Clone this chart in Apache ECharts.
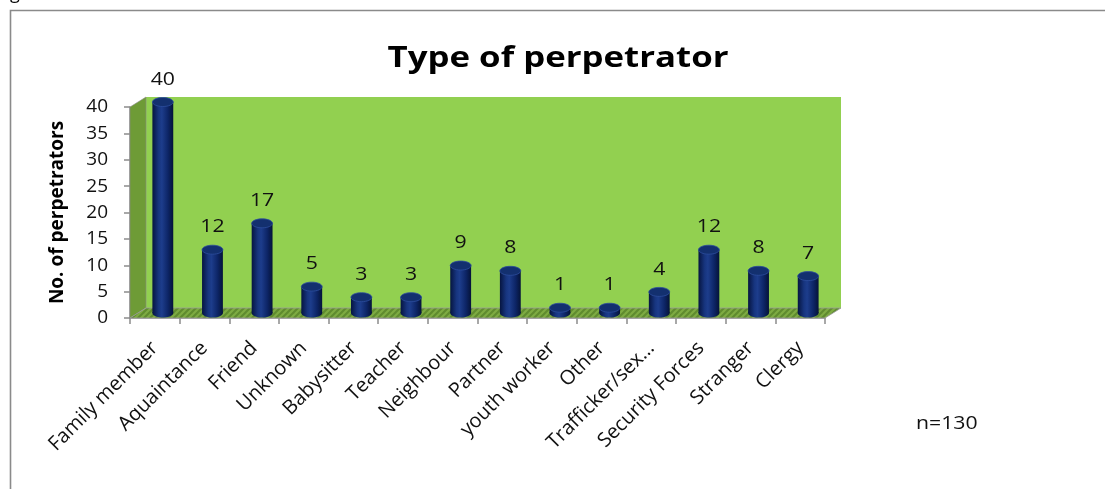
<!DOCTYPE html>
<html>
<head>
<meta charset="utf-8">
<script src="https://cdn.jsdelivr.net/npm/echarts@6/dist/echarts.min.js"></script>
<style>
html,body{margin:0;padding:0;background:#fff;overflow:hidden;}
#c{width:1105px;height:489px;}
</style>
</head>
<body>
<div id="c"></div>
<script>
// ---- data ----
const categories = ['Family member','Aquaintance','Friend','Unknown','Babysitter','Teacher','Neighbour','Partner','youth worker','Other','Trafficker/sex…','Security Forces','Stranger','Clergy'];
const counts = [40,12,17,5,3,3,9,8,1,1,4,12,8,7];
const yTicks = {min:0, max:40, interval:5};
const titleText = 'Type of perpetrator';
const yAxisTitle = 'No. of perpetrators';
const noteText = 'n=130';

// ---- layout ----
const FONT = "'Open Sans', 'Noto Sans', sans-serif";
const WIDE = 1.18; // horizontal text widening for upright texts
const front = {left:130, top:107, right:825, bottom:318};
const depth = {dx:16, dy:-10};

// floor stripe pattern
const pc = document.createElement('canvas');
pc.width = 6; pc.height = 6;
const g = pc.getContext('2d');
g.fillStyle = '#7eab43'; g.fillRect(0,0,6,6);
g.strokeStyle = '#5f8b2f'; g.lineWidth = 2;
g.beginPath(); g.moveTo(-1,7); g.lineTo(7,-1); g.stroke();
g.beginPath(); g.moveTo(-4,4); g.lineTo(4,-4); g.stroke();
g.beginPath(); g.moveTo(2,10); g.lineTo(10,2); g.stroke();

const gridW = front.right - front.left;
const gridH = front.bottom - front.top;

const chart = echarts.init(document.getElementById('c'), null, {renderer:'canvas'});

const option = {
  backgroundColor: '#ffffff',
  animation: false,
  graphic: [
    {type:'rect', left: 8, top: 8, shape:{width: 1200, height: 600},
     style:{fill:'none', stroke:'#8a8a8a', lineWidth:1.6}, z:-1, silent:true},
    {type:'text', x: 10, y: -15, style:{text:'g', fontFamily: FONT, fontSize:18, fill:'#000', verticalAlign:'top'}},
    {type:'text', x: 558, y: 44, scaleX: 1.2,
     style:{text: titleText, x:0, y:0, align:'center', verticalAlign:'top', fontFamily: FONT, fontWeight:'bold', fontSize:29, fill:'#000'}},
    {type:'text', x: 916, y: 424, scaleX: WIDE,
     style:{text: noteText, x:0, y:0, fontFamily: FONT, fontSize:18, fill:'#111', verticalAlign:'middle'}}
  ],
  grid: [
    {left: front.left, top: front.top, width: gridW, height: gridH},
    {left: front.left + depth.dx, top: front.top + depth.dy, width: gridW, height: gridH,
     show: true, backgroundColor: '#92d050', borderWidth: 0},
    {left: front.left + depth.dx/2, top: front.top + depth.dy/2, width: gridW, height: gridH}
  ],
  xAxis: [
    {type:'category', gridIndex:0, data: categories, boundaryGap: true,
     axisLine:{show:true, lineStyle:{color:'#8c8c8c', width:1.5}},
     axisTick:{show:true, interval:0, length:6, lineStyle:{color:'#8c8c8c', width:1.5}},
     axisLabel:{interval:0, rotate:45, margin:27, fontFamily: FONT, fontSize:20, color:'#111'}},
    {type:'category', gridIndex:1, data: categories, show:false},
    {type:'category', gridIndex:2, data: categories, show:false}
  ],
  yAxis: [
    {type:'value', gridIndex:0, min:yTicks.min, max:yTicks.max, interval:yTicks.interval,
     name: yAxisTitle, nameLocation:'middle', nameGap: 63,
     nameTextStyle:{fontFamily: FONT, fontWeight:'bold', fontSize:19, color:'#000'},
     axisLine:{show:true, lineStyle:{color:'#8c8c8c', width:1.5}},
     axisTick:{show:true, length:6, lineStyle:{color:'#8c8c8c', width:1.5}},
     axisLabel:{margin: 22, fontFamily: FONT, fontSize:19, color:'#111'},
     splitLine:{show:false}},
    {type:'value', gridIndex:1, min:yTicks.min, max:yTicks.max, interval:yTicks.interval, show:false, splitLine:{show:false}},
    {type:'value', gridIndex:2, min:yTicks.min, max:yTicks.max, interval:yTicks.interval, show:false, splitLine:{show:false}}
  ],
  series: [
    {
      type:'custom', xAxisIndex:0, yAxisIndex:0, data:[[0,0]], z:1, silent:true,
      renderItem: function(params, api){
        const cs = params.coordSys;
        const x0 = cs.x, x1 = cs.x + cs.width, yt = cs.y, yb = cs.y + cs.height;
        const dx = depth.dx, dy = depth.dy;
        return {type:'group', children:[
          {type:'polygon', shape:{points:[[x0,yt],[x0+dx,yt+dy],[x0+dx,yb+dy],[x0,yb]]},
           style:{fill:'#6e9b36', stroke:'#8c8c8c', lineWidth:0.6}},
          {type:'polygon', shape:{points:[[x0,yb],[x0+dx,yb+dy],[x1+dx,yb+dy],[x1,yb]]},
           style:{fill:{image: pc, repeat:'repeat'}, stroke:'#9a9a9a', lineWidth:0.8}}
        ]};
      }
    },
    {
      type:'custom', xAxisIndex:2, yAxisIndex:2, z:3, silent:true,
      data: counts.map((v,i)=>[i,v]),
      renderItem: function(params, api){
        const i = api.value(0), v = api.value(1);
        const top = api.coord([i, v]);
        const base = api.coord([i, 0]);
        const w = api.size([1,0])[0] * 0.42;
        const ry = 4.5;
        const grad = new echarts.graphic.LinearGradient(0,0,1,0,[
          {offset:0, color:'#061540'},
          {offset:0.3, color:'#17357f'},
          {offset:0.45, color:'#1d3d8c'},
          {offset:0.75, color:'#0d2566'},
          {offset:1, color:'#051338'}
        ]);
        return {type:'group', children:[
          {type:'ellipse', shape:{cx: top[0], cy: base[1], rx: w/2, ry: ry}, style:{fill: grad}},
          {type:'rect', shape:{x: top[0]-w/2, y: top[1], width: w, height: Math.max(0, base[1]-top[1])}, style:{fill: grad}},
          {type:'ellipse', shape:{cx: top[0], cy: top[1], rx: w/2, ry: ry},
           style:{fill:'#13306f', stroke:'#2d4e9e', lineWidth:0.8}},
          {type:'text', x: top[0], y: top[1]-ry-9, scaleX: WIDE,
           style:{text: String(v), x:0, y:0, align:'center', verticalAlign:'bottom', fontFamily: FONT, fontSize:18, fill:'#111'}}
        ]};
      }
    }
  ]
};
chart.setOption(option);
</script>
</body>
</html>
